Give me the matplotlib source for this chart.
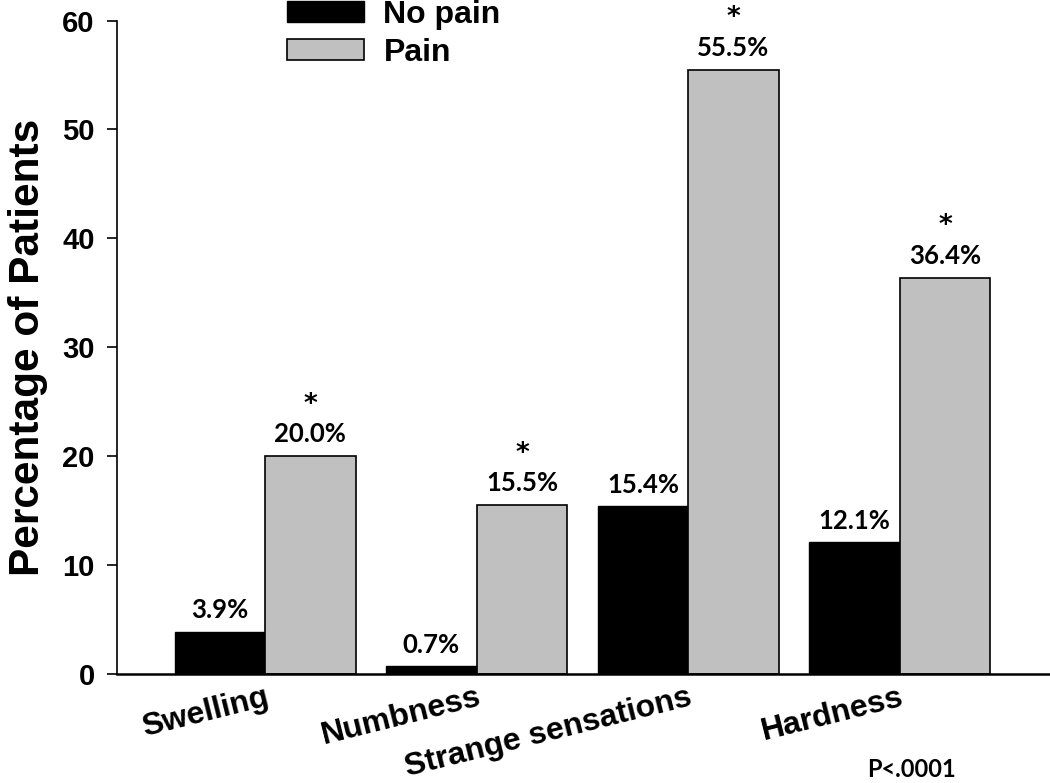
import numpy as np
import matplotlib
matplotlib.use('Agg')
import matplotlib.pyplot as plt

# data
categories = ['Swelling', 'Numbness', 'Strange sensations', 'Hardness']
no_pain = [3.9, 0.7, 15.4, 12.1]
pain = [20.0, 15.5, 55.5, 36.4]
series_names = ['No pain', 'Pain']
significant = [True, True, True, True]
p_text = 'P<.0001'

plt.rcParams['font.family'] = ['Liberation Sans', 'DejaVu Sans']
plt.rcParams['font.weight'] = 'bold'

fig = plt.figure(figsize=(10.5, 7.83), dpi=100)
ax = fig.add_axes([0.1114, 0.1392, 0.8886, 0.8345])

x = np.arange(len(categories))
w = 0.428
b1 = ax.bar(x - w/2, no_pain, w, color='black', edgecolor='black', linewidth=1, label=series_names[0])
b2 = ax.bar(x + w/2, pain, w, color='#c0c0c0', edgecolor='black', linewidth=1.2, label=series_names[1])

lab_font = dict(family=['Lato', 'DejaVu Sans'], fontsize=18.5, fontweight='bold')
for bars, vals in [(b1, no_pain), (b2, pain)]:
	for r, v in zip(bars, vals):
		ax.annotate('%.1f%%' % v, (r.get_x() + r.get_width()/2, v), xytext=(0, 7),
			textcoords='offset points', ha='center', va='bottom', **lab_font)

# asterisks over the pain bars
for r, v, s in zip(b2, pain, significant):
	if s:
		ax.annotate('*', (r.get_x() + r.get_width()/2, v), xytext=(0, 37),
			textcoords='offset points', ha='center', va='center',
			family='DejaVu Sans', fontsize=19, fontweight='bold')

ax.set_xlim(-0.70, 3.71)
ax.set_ylim(0, 60)
ax.set_yticks(np.arange(0, 61, 10))
ax.tick_params(axis='y', labelsize=21, length=7, width=1.2, direction='out', pad=9)
ax.set_xticks(x)
ax.set_xticklabels(categories, rotation=14, ha='right', rotation_mode='anchor',
	fontsize=23, fontweight='bold')
ax.tick_params(axis='x', length=0, pad=6)
for t in ax.get_yticklabels():
	t.set_fontweight('bold')

ax.spines['top'].set_visible(False)
ax.spines['right'].set_visible(False)
ax.spines['left'].set_linewidth(1.2)
ax.spines['bottom'].set_linewidth(1.8)

ax.set_ylabel('Percentage of Patients', fontsize=30.5, fontweight='bold', labelpad=10)

fig.legend(handles=[b1, b2], loc='upper left', bbox_to_anchor=(287/1050, 1.0),
	frameon=False, borderpad=0, borderaxespad=0, prop=dict(size=23, weight='bold'),
	handlelength=2.4, handleheight=0.63, handletextpad=0.62, labelspacing=0.25)

fig.text(0.868, 0.002, p_text, ha='center', va='bottom', **dict(lab_font, fontsize=17))

fig.savefig('out.png', dpi=100)
